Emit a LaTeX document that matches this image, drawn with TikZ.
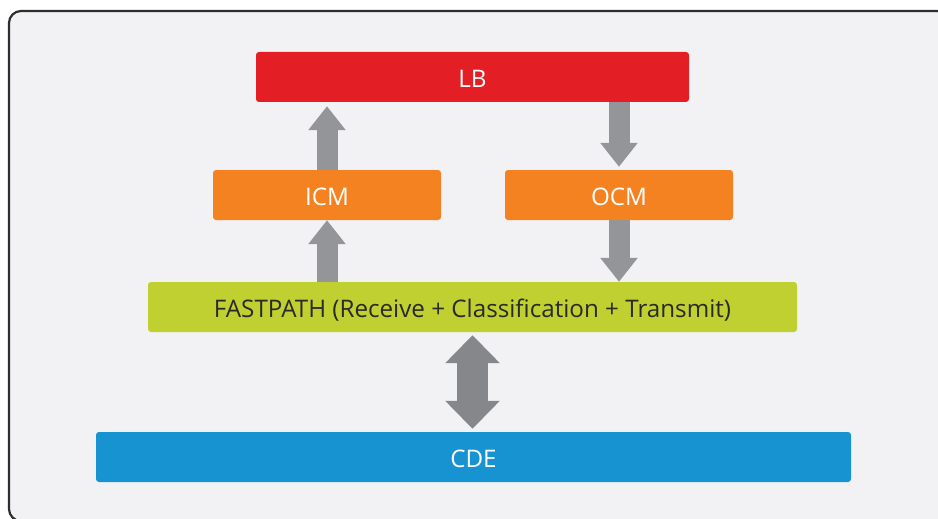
\documentclass[tikz,border=0pt]{standalone}
\usepackage{fontspec}
\setmainfont{Open Sans}
\usetikzlibrary{arrows.meta}

\definecolor{panelbg}{HTML}{F2F2F4}
\definecolor{framecol}{HTML}{2E2E30}
\definecolor{lbred}{HTML}{E31E25}
\definecolor{cmorange}{HTML}{F48221}
\definecolor{fpgreen}{HTML}{BFD030}
\definecolor{cdeblue}{HTML}{1793D1}
\definecolor{arrowgray}{HTML}{939598}
\definecolor{arrowdark}{HTML}{86878A}
\definecolor{textdark}{HTML}{2A2A2A}

\tikzset{
  block/.style={rounded corners=3pt, minimum height=50pt, inner sep=0pt,
    text=white, font=\fontsize{24.2}{28}\selectfont,
    text height=20.3pt, text depth=0pt},
  flowarrow/.style={draw=arrowgray, line width=21pt, line cap=butt,
    -{Triangle[length=24pt,width=36pt,fill=arrowgray]}},
  busarrow/.style={draw=arrowdark, line width=31pt, line cap=butt,
    {Triangle[length=28pt,width=53pt,fill=arrowdark]}-{Triangle[length=28pt,width=53pt,fill=arrowdark]}}
}

\begin{document}
\begin{tikzpicture}[x=1pt,y=-1pt]
  \useasboundingbox (0,0) rectangle (938,519);
  \clip (0,0) rectangle (938,519);
  \fill[white] (0,0) rectangle (938,519);

  % outer panel
  \draw[framecol, fill=panelbg, line width=2.2pt, rounded corners=12pt]
    (9,11) rectangle (949,521);

  % processing blocks
  \node[block, fill=lbred, minimum width=433pt] (lb) at (472.5,77) {LB};
  \node[block, fill=cmorange, minimum width=228pt] (icm) at (327,195) {ICM};
  \node[block, fill=cmorange, minimum width=228pt] (ocm) at (619,195) {OCM};
  \node[block, fill=fpgreen, minimum width=649pt, text=textdark] (fp) at (472.5,307)
    {FASTPATH (Receive + Classification + Transmit)};
  \node[block, fill=cdeblue, minimum width=755pt] (cde) at (473.5,457) {CDE};

  % data flow
  \draw[flowarrow, shorten >=4pt] (icm.north) -- (icm.north |- lb.south);
  \draw[flowarrow] (icm.south |- fp.north) -- (icm.south);
  \draw[flowarrow, shorten >=3pt] (ocm.north |- lb.south) -- (ocm.north);
  \draw[flowarrow] (ocm.south) -- (ocm.south |- fp.north);
  \draw[busarrow, shorten <=3pt, shorten >=3pt] (fp.south) -- (fp.south |- cde.north);
\end{tikzpicture}
\end{document}
